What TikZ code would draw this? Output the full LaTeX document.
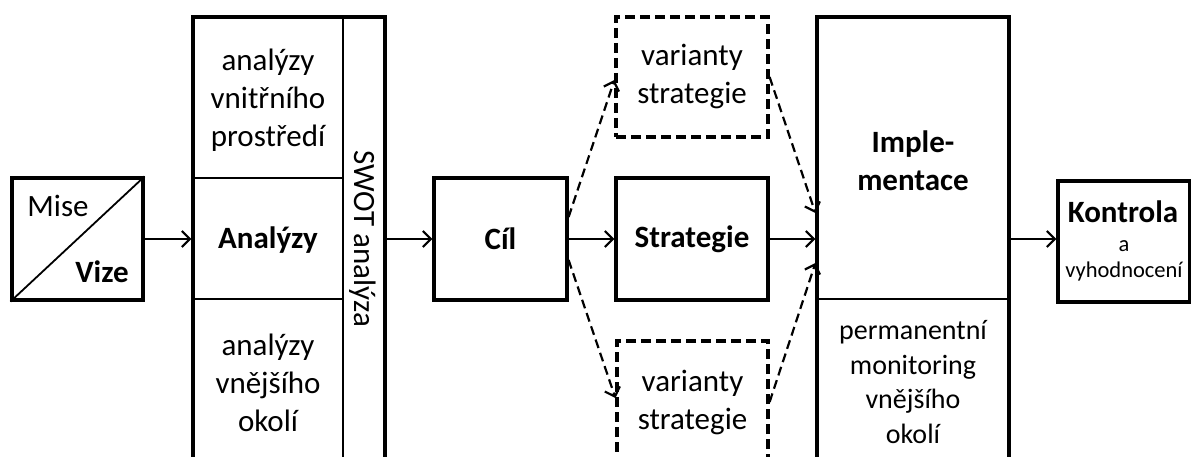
\documentclass[tikz,border=0pt]{standalone}
\usepackage{fontspec}
\setmainfont{Carlito}
\usetikzlibrary{arrows.meta,calc}
\begin{document}
\begin{tikzpicture}[x=1pt,y=-1pt,
  box/.style={draw, line width=3.2pt, inner sep=0pt},
  dbox/.style={box, dash pattern=on 10pt off 5pt},
  thinline/.style={line width=1.8pt},
  arr/.style={line width=2.2pt, -{Straight Barb[length=8pt,width=16pt]}},
  darr/.style={arr, dash pattern=on 9pt off 5pt},
  txt/.style={font=\fontsize{31}{38}\selectfont, align=center, inner sep=0pt},
  txtb/.style={font=\fontsize{31}{38}\selectfont\bfseries, align=center, inner sep=0pt},
  txtm/.style={font=\fontsize{28}{34.5}\selectfont, align=center, inner sep=0pt},
  txts/.style={font=\fontsize{22.5}{26}\selectfont, align=center, inner sep=0pt}]
\useasboundingbox (0,0) rectangle (1191,457);
\clip (0,0) rectangle (1191,457);

% Mise / Vize
\node[box, minimum width=131pt, minimum height=122pt] (mv) at (77.5,239) {};
\draw[thinline] (mv.south west) -- (mv.north east);
\node[txt] (mise) at (58,206) {Mise};
\node[txtb] (vize) at (102,272) {Vize};

% Analyses column with SWOT strip
\node[box, minimum width=192pt, minimum height=453pt] (an) at (289,243.5) {};
\draw[thinline] (343,17) -- (343,470);
\draw[thinline] (193,178) -- (343,178);
\draw[thinline] (193,299) -- (343,299);
\node[txt] (an1) at (268,100) {analýzy\\vnitřního\\prostředí};
\node[txtb] (an2) at (268,240) {Analýzy};
\node[txt] (an3) at (268,383) {analýzy\\vnějšího\\okolí};
\node[txt, rotate=-90] (swot) at (363,239) {SWOT analýza};

% Goal and strategy
\node[box, txtb, minimum width=133pt, minimum height=122pt] (cil) at (500.5,239) {Cíl};
\node[box, txtb, minimum width=152pt, minimum height=122pt] (strat) at (692,239) {Strategie};
\node[dbox, txt, minimum width=152pt, minimum height=120pt] (va1) at (692,77) {varianty\\strategie};
\node[dbox, txt, minimum width=151pt, minimum height=122pt] (va2) at (692.5,402) {varianty\\strategie};

% Implementation
\node[box, minimum width=192pt, minimum height=453pt] (impl) at (913,243.5) {};
\draw[thinline] (817,299) -- (1009,299);
\node[txtb] (impl1) at (913,161) {Imple-\\mentace};
\node[txtm] (impl2) at (913,382) {permanentní\\monitoring\\vnějšího\\okolí};

% Control
\node[box, minimum width=132pt, minimum height=121pt] (ko) at (1124,241.5) {};
\node[txtb] (ko1) at (1123,212) {Kontrola};
\node[txts] (ko2) at (1124,261) {a\\vyhodnocení};

% Connectors
\draw[arr] (mv.east) -- (mv.east -| an.west);
\draw[arr] (cil.west -| an.east) -- (cil.west);
\draw[arr] (cil.east) -- (strat.west);
\draw[arr] (strat.east) -- (strat.east -| impl.west);
\draw[arr] (impl.east |- strat.east) -- (ko.west |- strat.east);
\draw[darr] ([yshift=22pt]cil.east) -- ([yshift=-3pt]va1.west);
\draw[darr] ([yshift=-21pt]cil.east) -- ([yshift=4pt]va2.west);
\draw[darr] (va1.east) -- ($(strat.east -| impl.west)+(0,-26)$);
\draw[darr] (va2.east) -- ($(strat.east -| impl.west)+(0,24)$);
\end{tikzpicture}
\end{document}
